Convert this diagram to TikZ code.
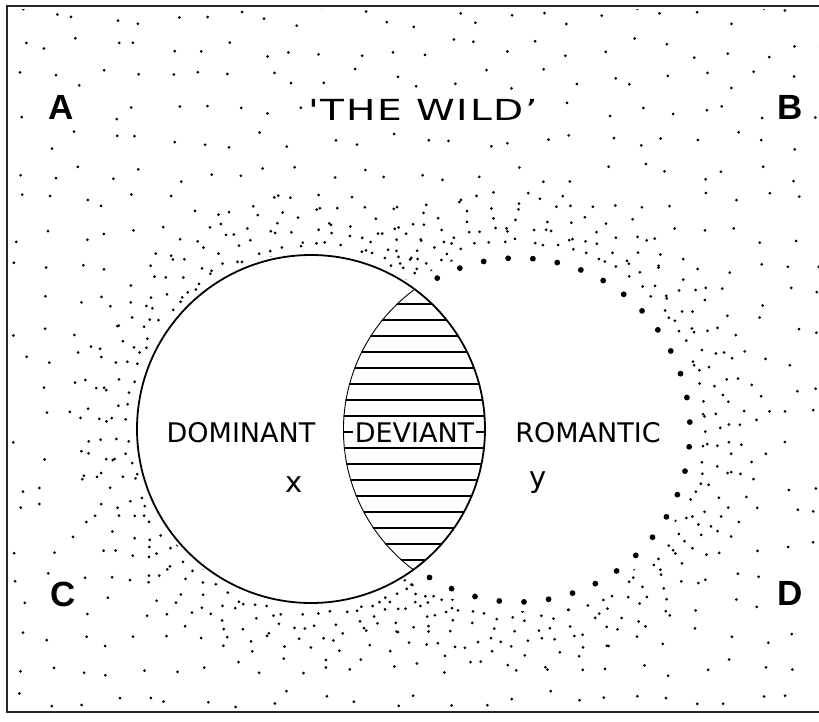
\documentclass[tikz,border=0pt]{standalone}
\usepackage{fontspec}
\setmainfont{DejaVu Sans}
\newfontfamily\lblfont{DejaVu Sans}
\newfontfamily\wildfont[FakeStretch=1.35,LetterSpace=6]{DejaVu Sans}
\newfontfamily\cornerfont{Liberation Sans}
\begin{document}
\begin{tikzpicture}[x=1pt,y=-1pt,
  stip/.style={fill=black},
  bigdot/.style={fill=black},
  region/.style={font=\lblfont\fontsize{27}{27}\selectfont, inner sep=0pt, anchor=base},
  corner/.style={font=\cornerfont\bfseries\fontsize{35}{35}\selectfont, inner sep=1pt, fill=white, anchor=base},
  varlbl/.style={font=\lblfont\fontsize{29}{29}\selectfont, inner sep=0pt, anchor=base},
  hatch/.style={line width=1.2pt},
  outline/.style={line width=1.8pt}]
\useasboundingbox (0,0) rectangle (819,722);
% stipple background
\pgfmathsetseed{4711}
\begin{scope}
\clip (11,10) rectangle (819,709);
% sparse, evenly spread dots
\foreach \gx in {0,...,26}{
  \foreach \gy in {0,...,22}{
    \pgfmathsetmacro\px{17+31*\gx+20*(rnd-0.5)}
    \pgfmathsetmacro\py{17+31*\gy+20*(rnd-0.5)}
    \fill[stip] (\px,\py) circle (1.5);
  }
}
% denser halo round the dominant circle
\foreach \j in {0,...,4}{
  \pgfmathsetmacro\dd{185+12*\j}
  \pgfmathtruncatemacro\nn{2*pi*\dd/(15+5*\j)}
  \pgfmathsetmacro\off{360*rnd}
  \foreach \i in {1,...,\nn}{
    \pgfmathsetmacro\aa{\off+(\i/\nn)*360+3*(rnd-0.5)}
    \pgfmathsetmacro\rr{\dd+6*(rnd-0.5)}
    \fill[stip] ({311+\rr*cos(\aa)},{429-\rr*sin(\aa)}) circle (1.5);
  }
}
% denser halo round the romantic region
\foreach \j in {0,...,4}{
  \pgfmathsetmacro\dd{189+12*\j}
  \pgfmathtruncatemacro\nn{2*pi*\dd/(15+5*\j)}
  \pgfmathsetmacro\off{360*rnd}
  \foreach \i in {1,...,\nn}{
    \pgfmathsetmacro\aa{\off+(\i/\nn)*360+3*(rnd-0.5)}
    \pgfmathsetmacro\rr{\dd+6*(rnd-0.5)}
    \fill[stip] ({518+\rr*cos(\aa)},{430-\rr*sin(\aa)}) circle (1.5);
  }
}
\end{scope}
% clear the two regions
\fill[white] (311,429) circle (177);
\fill[white] (518,430) circle (181);
% hatching of the lens
\begin{scope}
\clip (311,429) circle (174);
\clip (518,430) circle (175);
\foreach \k in {-8,...,8}{
  \draw[hatch] (300,{432+16*\k}) -- (520,{432+16*\k});
}
\draw[outline] (518,430) circle (175);
\end{scope}
\draw[outline] (311,429) circle (174);
% dotted outline of the romantic region
\foreach \i in {0,...,29}{
  \pgfmathsetmacro\aa{118-\i*8.24}
  \fill[bigdot] ({518+172*cos(\aa)},{430-172*sin(\aa)}) circle (2.9);
}
% frame
\draw[line width=2pt, black!85] (819,6) -- (7,6) -- (7,712) -- (819,712);
% texts
\node[font=\wildfont\fontsize{29}{29}\selectfont, inner sep=1pt, fill=white, anchor=base] (wild) at (423,121) {\char"0027 THE WILD’};
\node[corner] (A) at (61,120) {A};
\node[corner] (B) at (790,120) {B};
\node[corner] (C) at (63,606) {C};
\node[corner] (D) at (790,605) {D};
\node[region] (dom) at (241,442) {DOMINANT};
\node[region, fill=white, inner xsep=2pt, inner ysep=1pt] (dev) at (414.5,442) {DEVIANT};
\node[region] (rom) at (588,442) {ROMANTIC};
\node[varlbl] (x) at (294,492) {x};
\node[varlbl] (y) at (538,487) {y};
\end{tikzpicture}
\end{document}
